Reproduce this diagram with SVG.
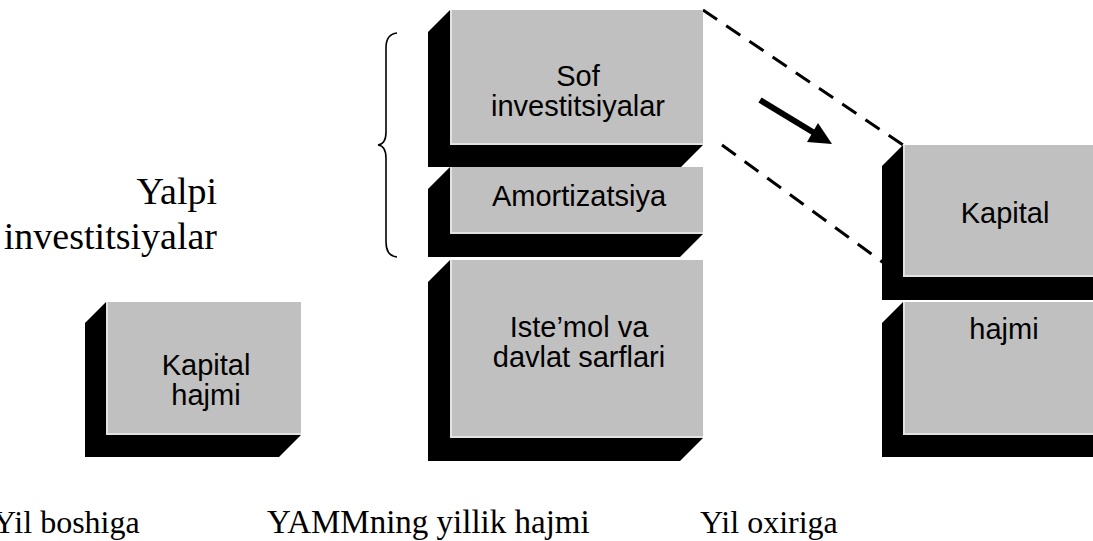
<svg xmlns="http://www.w3.org/2000/svg" width="1093" height="541" viewBox="0 0 1093 541">
<style>
.shadow{fill:#000}
.face{fill:#c0c0c0}
.hl{stroke:#e2e2e2;stroke-width:2;fill:none}
.box{font-family:"Liberation Sans",Arial,sans-serif;font-size:29px;fill:#000;text-anchor:middle}
.serif{font-family:"Liberation Serif","Times New Roman",serif;fill:#000}
.dash{stroke:#000;stroke-width:3;stroke-dasharray:17 11;fill:none}
</style>
<rect width="1093" height="541" fill="#fff"/>

<g id="connectors">
<line class="dash" x1="703" y1="10" x2="903" y2="145"/>
<line class="dash" x1="722" y1="145" x2="903" y2="277"/>
<line x1="760" y1="100" x2="816" y2="134" stroke="#000" stroke-width="6"/>
<polygon points="832,144 807,142 818,123" fill="#000"/>
<path d="M397,33 Q386,34 386,48 L386,132 Q386,144 378,145 Q386,146 386,158 L386,242 Q386,256 397,257" fill="none" stroke="#000" stroke-width="1.6"/>
</g>

<g id="node-sof">
<polygon class="shadow" points="450,10 428,32 428,167 681,167 703,145"/>
<rect class="face" x="450" y="10" width="253" height="135"/>
<line class="hl" x1="451" y1="10" x2="451" y2="145"/>
<line class="hl" x1="450" y1="144" x2="703" y2="144"/>
<text class="box" x="578" y="86">Sof</text>
<text class="box" x="578" y="116">investitsiyalar</text>
</g>

<g id="node-amortizatsiya">
<polygon class="shadow" points="450,167 428,189 428,257 680,257 703,234"/>
<rect class="face" x="450" y="167" width="253" height="67"/>
<line class="hl" x1="451" y1="167" x2="451" y2="234"/>
<line class="hl" x1="450" y1="233" x2="703" y2="233"/>
<text class="box" x="579" y="206">Amortizatsiya</text>
</g>

<g id="node-istemol">
<polygon class="shadow" points="450,260 428,282 428,461 680,461 703,438"/>
<rect class="face" x="450" y="260" width="253" height="178"/>
<line class="hl" x1="451" y1="260" x2="451" y2="438"/>
<line class="hl" x1="450" y1="437" x2="703" y2="437"/>
<text class="box" x="579" y="337">Iste’mol va</text>
<text class="box" x="579" y="367">davlat sarflari</text>
</g>

<g id="node-kapital-start">
<polygon class="shadow" points="106,302 85,323 85,457 279,457 301,435"/>
<rect class="face" x="106" y="302" width="195" height="133"/>
<line class="hl" x1="107" y1="302" x2="107" y2="435"/>
<line class="hl" x1="106" y1="434" x2="301" y2="434"/>
<text class="box" x="206" y="375">Kapital</text>
<text class="box" x="206" y="405">hajmi</text>
</g>

<g id="node-kapital-end-top">
<polygon class="shadow" points="903,145 882,166 882,300 1100,300 1110,277"/>
<rect class="face" x="903" y="145" width="210" height="132"/>
<line class="hl" x1="904" y1="145" x2="904" y2="277"/>
<line class="hl" x1="903" y1="276" x2="1113" y2="276"/>
<text class="box" x="1005" y="223">Kapital</text>
</g>

<g id="node-kapital-end-bottom">
<polygon class="shadow" points="903,302 882,323 882,457 1100,457 1110,435"/>
<rect class="face" x="903" y="302" width="210" height="133"/>
<line class="hl" x1="904" y1="302" x2="904" y2="435"/>
<line class="hl" x1="903" y1="434" x2="1113" y2="434"/>
<text class="box" x="1004" y="339">hajmi</text>
</g>

<g id="labels">
<text class="serif" x="217" y="204" font-size="38" text-anchor="end">Yalpi</text>
<text class="serif" x="217" y="249" font-size="38" text-anchor="end">investitsiyalar</text>
<text class="serif" x="-7" y="533" font-size="32">Yil boshiga</text>
<text class="serif" x="267" y="533" font-size="33">YAMMning yillik hajmi</text>
<text class="serif" x="700" y="533" font-size="32">Yil oxiriga</text>
</g>
</svg>
